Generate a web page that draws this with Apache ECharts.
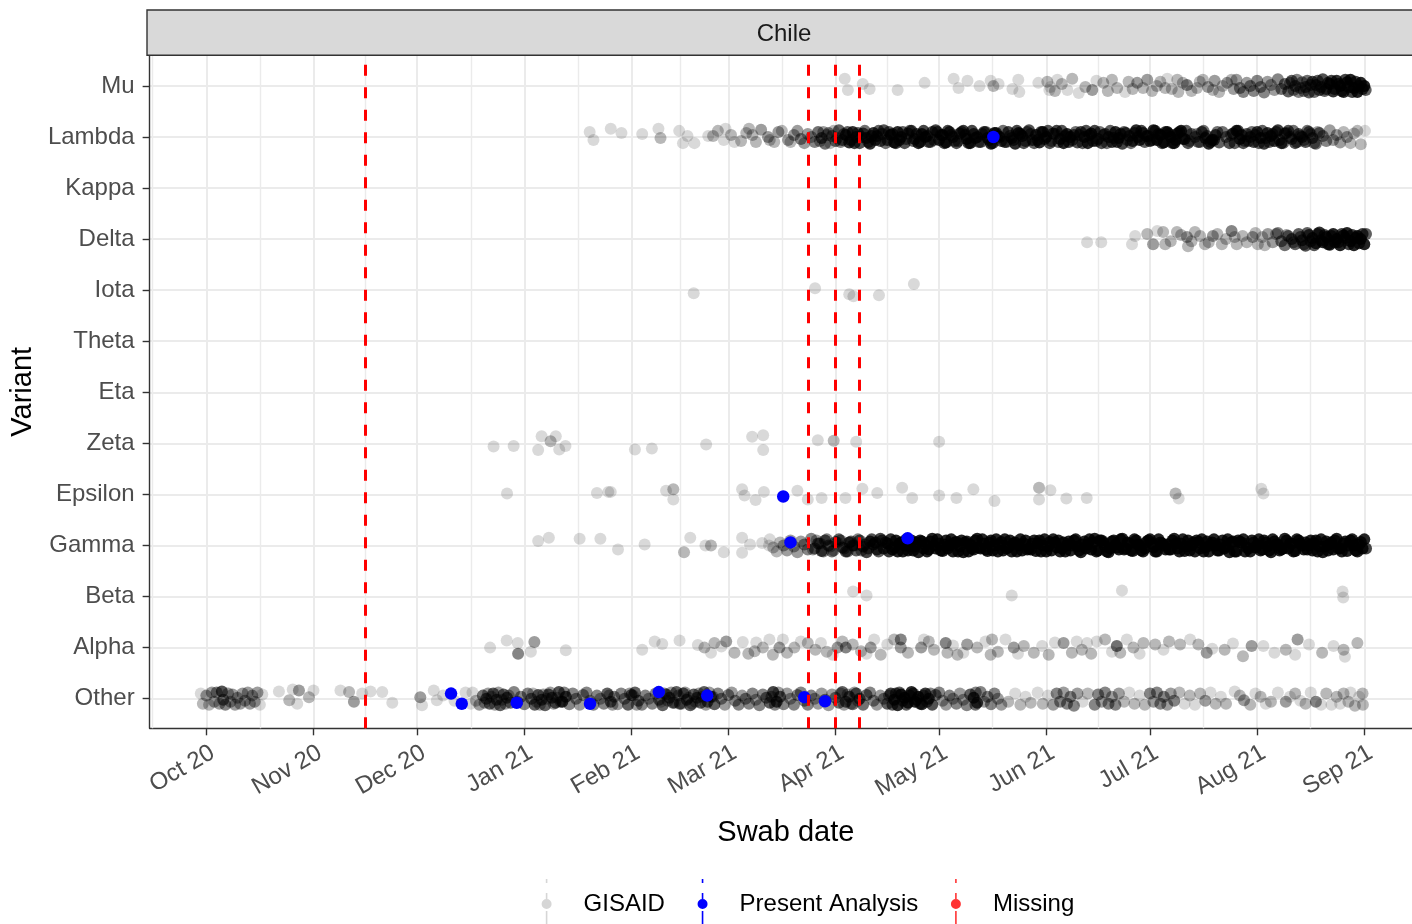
<!DOCTYPE html>
<html>
<head>
<meta charset="utf-8">
<script src="https://cdn.jsdelivr.net/npm/echarts@6/dist/echarts.min.js"></script>
<style>
  html, body { margin: 0; padding: 0; background: #ffffff; }
  #chart { width: 1412px; height: 924px; }
</style>
</head>
<body>
<div id="chart"></div>
<script>
// Variant lanes, bottom to top
const variants = ['Other', 'Alpha', 'Beta', 'Gamma', 'Epsilon', 'Zeta', 'Eta', 'Theta', 'Iota', 'Delta', 'Kappa', 'Lambda', 'Mu'];

// Month breaks on the date axis and their labels
const monthTicks = ['2020-10-01', '2020-11-01', '2020-12-01', '2021-01-01', '2021-02-01', '2021-03-01',
  '2021-04-01', '2021-05-01', '2021-06-01', '2021-07-01', '2021-08-01', '2021-09-01'];
const monthLabels = ['Oct 20', 'Nov 20', 'Dec 20', 'Jan 21', 'Feb 21', 'Mar 21',
  'Apr 21', 'May 21', 'Jun 21', 'Jul 21', 'Aug 21', 'Sep 21'];

// Dates with no sequencing data
const missingDates = ['2020-11-16', '2021-03-24', '2021-04-01', '2021-04-08'];

// Samples analysed in this study: [variant, days since 2020-10-01, jitter]
const presentAnalysis = [
  ['Other', 70.8, .1], ['Other', 73.9, -.1], ['Other', 89.8, -.08], ['Other', 111, -.1],
  ['Other', 130.9, .13], ['Other', 144.9, .06], ['Other', 173, .03], ['Other', 179, -.05],
  ['Epsilon', 166.9, -.04], ['Gamma', 169, .06], ['Gamma', 202.9, .14], ['Lambda', 227.7, 0]
];

// GISAID sequences per variant: [days since 2020-10-01, vertical jitter, stacked sequences]
const gisaidMu = [
  [184.7,.14],[185.6,-.08],[189.9,.04],[191.9,-.06],[200,-.08],[207.8,.06],[216.2,.14],[217.6,-.04],[220.2,.1],[223.7,0],
  [226.9,.1],[227.7,0,2],[229.2,.04],[233.2,-.06],[234.9,.12],[235.2,-.12],[240.7,.06],[243.3,.08,2],[243.9,-.08],[244.2,-.02],
  [245.5,-.1,2],[246.2,.12],[247.5,.04,2],[249.1,-.08],[250.5,.14,2],[252.4,-.14],[254.3,-.02,2],[256.3,-.08,3],[257.5,.1],[259.5,.06,2],
  [260.8,-.1,2],[262,.12,2],[263.5,-.04,2],[265.8,-.12],[266.8,.08,2],[268,-.06,2],[269.3,.06,3],[271,-.04,2],[272.2,.12,3],[273.6,-.1,2],
  [275,0,2],[276,.08,2],[277.4,-.04,2],[278,.14],[279.3,-.06,2],[280.9,.12,2],[281.2,-.12,2],[282.5,.06,2],[283.7,.02,4],[285,-.1,2],
  [286.6,-.04,2],[287.4,.08,2],[288.3,.12,2],[289.8,-.02,3],[291.2,-.08,2],[291.7,.1,3],[293,-.12,2],[294,0,2],[295.3,.06,3],[296.6,.12,2],[297.2,-.06,3],
  [298,.12,3],[299,-.04,4],[300,-.12,4],[301,.06,3],[302,0,4],[303,-.1,4],[304,.1,4],[305,-.02,4],[306,-.13,4],[307,.08,3],
  [308,.02,3],[309,-.08,3],[310,.13,4],[311,-.06,5],[312,.04,5],[313,-.11,6],[314,.1,6],[315,0,5],[316,-.12,4],[317,.07,4],
  [318,-.02,6],[319,-.13,6],[320,.08,7],[321,.02,7],[322,-.08,7],[323,.13,7],[324,-.06,8],[325,.04,9],[326,-.11,10],[327,.1,10],
  [328,0,11],[329,-.12,11],[330,.07,12],[331,.12,12],[332,-.04,12],[333,-.12,12],[334,.06,12],[335,0,12],[335.4,-.08,6],
  [313.5,.06,4],[314.5,-.08,4],[315.5,.12,4],[316.5,-.04,4],[317.5,-.1,4],[318.5,.1,5],[319.5,.02,5],[320.5,-.12,5],[321.5,.1,6],[322.5,-.02,6],
  [323.5,-.1,6],[324.5,.06,7],
  [325.5,.1,8],[326.5,-.06,8],[327.5,.04,8],[328.5,-.1,8],[329.5,.12,8],[330.5,-.02,8],[331.5,-.12,8],[332.5,.08,8],[333.5,0,8],[334.5,-.06,8]
];

const gisaidLambda = [
  [110.9,.1],[112,-.06],[117,.16],[120.1,.08],[126.1,.06],[130.8,.16],[131.4,-.02,2],[136.8,.12],[137.9,-.12],[139.2,.02],
  [141.2,-.12],[145.2,.02],[146.6,.02,2],[148,.12,2],[149.7,-.06],[150.2,.16],[151.8,.04,2],[152.8,-.1],[154.7,-.08,2],[156.2,.08,2],
  [157,.16,2],[158,.04,2],[159,-.1,2],[160.5,.14,3],[162.5,0,3],[163,-.06,2],[164.3,-.1,2],[165.5,.1,3],[166.5,.12,2],[168.3,-.06,3],[169,-.1,2],[170,.04,3],
  [171,.12,3],[172,-.04,4],[173,-.12,3],[174,.06,3],[175,0,3],[176,-.1,4],[177,.1,5],[178,-.02,6],[179,-.13,5],[180,.08,4],
  [181,.02,4],[182,-.08,5],[183,.13,6],[184,-.06,7],[185,.04,8],[186,-.11,10],[187,.1,10],[188,0,8],[189,-.12,7],[190,.07,7],
  [191,-.02,8],[192,-.13,10],[193,.08,10],[194,.02,8],[195,-.08,7],[196,.13,7],[197,-.06,8],[198,.04,10],[199,-.11,11],[200,.1,11],
  [201,0,9],[202,-.12,7],[203,.07,7],[204,.12,8],[205,-.04,9],[206,-.12,11],[207,.06,11],[208,0,9],[209,-.1,7],[210,.1,7],
  [211,.13,8],[212,-.06,9],[213,.04,11],[214,-.11,11],[215,.1,9],[216,0,7],[217,-.12,7],[218,.07,8],[219,.12,9],[220,-.04,11],
  [221,-.12,11],[222,.06,9],[223,0,7],[224,-.1,7],[225,.1,8],[226,-.02,9],[227,-.13,11],[228,.08,11],[229,.02,9],[230,-.08,7],
  [231,-.1,7],[232,.1,8],[233,-.02,9],[234,-.13,11],[235,.08,11],[236,.02,9],[237,-.08,7],[238,.13,7],[239,-.06,8],[240,.04,9],
  [241,-.11,11],[242,.1,11],[243,0,9],[244,-.12,7],[245,.07,7],[246,.12,8],[247,-.04,9],[248,-.12,11],[249,.06,11],[250,0,9],
  [251,.04,7],[252,-.11,7],[253,.1,8],[254,0,9],[255,-.12,11],[256,.07,11],[257,.12,8],[258,-.04,7],[259,-.12,7],[260,.06,7],
  [261,0,8],[262,-.1,9],[263,.1,11],[264,-.02,11],[265,-.13,8],[266,.08,7],[267,.02,7],[268,-.08,9],[269,.13,11],[270,-.06,11],
  [271,.08,8],[272,.02,8],[273,-.08,9],[274,.13,11],[275,-.06,12],[276,.04,12],[277,-.11,12],[278,.1,12],[279,0,12],[280,-.12,12],
  [281,.07,12],[282,.12,12],[283,-.04,10],[284,-.12,7],[285,.06,5],[286,0,5],[287,-.1,6],[288,.1,7],[289,-.02,9],[290,-.13,11],
  [291,-.06,11],[292,.04,8],[293,-.11,6],[294,.1,5],[295,0,5],[296,-.12,7],[297,.07,9],[298,.12,11],[299,-.04,11],[300,-.12,7],
  [301,.06,7],[302,0,7],[303,-.1,8],[304,.1,9],[305,-.02,9],[306,-.13,9],[307,.08,9],[308,.02,9],[309,-.08,9],[310,.13,9],
  [311,-.12,9],[312,.07,8],[313,.12,7],[314,-.04,7],[315,-.12,7],[316,.06,7],[317,0,8],[318,-.1,7],[319,.1,6],[320,-.02,6],
  [321,-.13,5],[322,.08,5],[323,.02,4],[324,-.08,4],[325,.13,3],[326,-.06,3],[327,.04,3],[328,-.11,3],[329,.1,2],[330,0,3],
  [331,-.12,2],[332,.07,2],[333,.12,2],[334,-.14,2],[335.2,.12,1],
  [177.5,-.08,3],[178.5,.1,3],[179.5,.04,3],[180.5,-.12,2],[181.5,.12,2],[182.5,-.02,3],
  [183.5,-.1,4],[184.5,.06,5],[185.5,.1,6],[186.5,-.06,8],[187.5,-.12,8],[188.5,.08,6],[189.5,0,5],[190.5,.12,5],[191.5,-.1,6],[192.5,.02,8],
  [193.5,-.06,8],[194.5,.12,6],[195.5,.06,5],[196.5,-.12,5],[197.5,.1,6],[198.5,.06,8],[199.5,-.12,8],[200.5,-.06,8],[201.5,.1,6],[202.5,-.04,5],
  [203.5,.12,5],[204.5,-.08,6],[205.5,.06,7],[206.5,-.1,8],[207.5,.12,8],[208.5,.02,7],[209.5,-.1,5],[210.5,-.06,5],[211.5,.1,6],[212.5,.04,7],
  [213.5,-.12,8],[214.5,.12,8],[215.5,.04,7],[216.5,-.08,5],[217.5,-.08,5],[218.5,.1,6],[219.5,.04,7],[220.5,-.12,8],[221.5,.12,8],[222.5,-.02,7],
  [223.5,-.1,5],[224.5,.06,5],[225.5,.1,6],[226.5,-.06,7],[227.5,-.12,8],[228.5,.08,8],[229.5,0,7],[230.5,.12,5],[231.5,-.1,5],[232.5,.02,6],
  [233.5,-.06,7],[234.5,.12,8],[235.5,.06,8],[236.5,-.12,7],[237.5,.1,5],[238.5,.06,5],[239.5,-.12,6],[240.5,-.06,7],[241.5,.1,8],[242.5,-.04,8],
  [243.5,.12,7],[244.5,-.08,5],[245.5,.06,5],[246.5,-.1,6],[247.5,.12,7],[248.5,.02,8],[249.5,-.1,8],[250.5,-.06,7],[251.5,.1,5],[252.5,.04,5],
  [253.5,-.12,6],[254.5,.12,7],[255.5,.04,8],[256.5,-.08,8],[257.5,-.08,6],[258.5,.1,5],[259.5,.04,5],[260.5,-.12,5],[261.5,.12,6],[262.5,-.02,7],
  [263.5,-.1,8],[264.5,.06,8],[265.5,.1,6],[266.5,-.06,5],[267.5,-.12,5],[268.5,.08,7],[269.5,0,8],[270.5,.12,8],[271.5,-.1,6],[272.5,.02,6],
  [273.5,-.06,7],[274.5,.12,8],[275.5,.06,8],[276.5,-.12,8],[277.5,.1,8],[278.5,.06,8],[279.5,-.12,8],[280.5,-.06,8],[281.5,.1,8],[282.5,-.04,8],
  [283.5,.12,6],[284.5,-.08,4],[286.5,.06,3],[287.5,-.1,4],[288.5,.12,5],[289.5,.02,6],[290.5,-.1,8],[291.5,-.06,8],[292.5,.1,5],
  [296.5,.04,4],[297.5,-.12,6],[298.5,.12,8],[299.5,.04,8],[300.5,-.08,5],[301.5,-.08,5],[302.5,.1,5],[303.5,.04,6],[304.5,-.12,6],[305.5,.12,6],
  [306.5,-.02,6],[307.5,-.1,6],[308.5,.06,6],[309.5,.1,6],[310.5,-.06,6],[311.5,-.12,6],[312.5,.08,5],[313.5,0,5],[314.5,.12,5],[315.5,-.1,5],
  [316.5,.02,5],[317.5,-.06,5],[318.5,.12,5],[319.5,.06,4],[320.5,-.12,4],[321.5,.1,3]
];

const gisaidKappa = [];

const gisaidDelta = [
  [254.8,-.06],[258.9,-.06],[267.8,-.1],[268.7,.06],[272.2,.1,2],[273.9,-.1,3],[275.1,.16],[276.8,.14,2],[277.4,-.1,2],[279,-.04,2],
  [280.8,.14,2],[282,.08,2],[283.7,.04,3],[284,-.14,2],[285,-.04,2],[286,.14,2],[287.5,.06,2],[288.9,-.1,2],[290,-.06,2],[291.2,.06,3],
  [292.5,.1,2],[293.8,-.1,2],[295,0,2],[296.6,.16,4],[297.5,.04,2],[298.1,-.1,2],[299.8,.06,2],[301,-.06,2],[302.7,.04,3],[303.5,.12,2],
  [304.2,-.1,2],[305.5,.04,2],[306.2,-.12,2],[307.1,.1,3],[308.5,-.06,3],[309.5,.1,3],
  [310,.12,4],[311,-.04,5],[312,-.12,5],[313,.06,5],[314,0,6],[315,-.1,6],[316,.1,6],[317,-.02,7],[318,-.13,7],[319,.08,8],
  [320,.02,9],[321,-.08,10],[322,.13,10],[323,-.06,11],[324,.04,11],[325,-.11,12],[326,.1,12],[327,0,12],[328,-.12,12],[329,.07,12],
  [330,.12,12],[331,-.04,12],[332,-.12,12],[333,.06,12],[334,0,12],[335,-.1,12],[335.5,.1,6],
  [312.5,.08,3],[314.5,-.06,4],[316.5,.04,5],[317.5,-.1,5],[318.5,.12,6],[319.5,-.04,6],[320.5,-.12,7],[321.5,.1,7],[322.5,-.02,8],[323.5,.08,8],
  [324.5,-.1,8],[325.5,.06,8],[326.5,-.06,8],[327.5,-.06,8],[328.5,.1,8],[329.5,.02,8],[330.5,-.1,8],[331.5,.08,8],[332.5,.02,8],[333.5,-.08,8],[334.5,.1,8]
];

const gisaidIota = [[141,-.06],[176.1,.04],[186,-.08],[187.2,-.12],[194.6,-.1],[204.7,.12]];
const gisaidTheta = [];
const gisaidEta = [];

const gisaidZeta = [
  [83.1,-.06],[88.9,-.05],[96,-.13],[97,.14],[99.6,.04,2],[101.1,.14],[102.1,-.12],[103.9,-.05],[124,-.12],[128.9,-.1],
  [144.6,-.02],[157.9,.13],[161.1,.16],[161.1,-.13],[176.9,.06],[181.5,.05,2],[188,.03],[212,.03]
];

const gisaidEpsilon = [
  [87,.02],[113,.03],[116.3,.05],[117,.05],[133,.07],[135.1,.1,2],[135.1,-.1],[155,.1],[155.7,-.02],[158.9,-.11],
  [161.3,.05],[171,.07],[174,-.1],[178,-.07],[184.9,-.07],[189.8,.11],[194.1,.03],[201.3,.13],[204.2,-.07],[212,-.02],
  [217,-.07],[221.9,.1],[228,-.13],[240.9,.13,2],[240.9,-.1],[244.2,.08],[248.8,-.08],[254.7,-.07],[280.4,.02,2],[281.3,-.08],
  [305.2,.11],[305.8,.02]
];

const gisaidGamma = [
  [96,.09],[99.1,.15],[108,.13],[114,.13],[119.1,-.08],[126.8,.02],[138.2,-.13,2],[140,.15],[144.4,0],[146,0,2],
  [149.7,-.13],[155,.15],[155,-.14],[157.3,.02],[160.8,.05],[162.8,0],
  [163,.12,1],[164,-.04,2],[165,-.12,2],[166,.06,2],[167,0,3],[168,-.1,3],[169,.1,3],[170,-.02,3],[171,-.13,3],[172,.08,3],
  [173,.02,4],[174,-.08,4],[175,.13,4],[176,-.06,5],[177,.04,6],[178,-.11,7],[179,.1,6],[180,0,5],[181,-.12,5],[182,.07,5],
  [183,.12,6],[184,-.04,6],[185,-.12,7],[186,.06,8],[187,0,7],[188,-.1,6],[189,.1,6],[190,-.02,7],[191,-.13,8],[192,.08,9],
  [193,.02,9],[194,-.08,8],[195,.13,8],[196,-.06,9],[197,.04,10],
  [175.5,-.08,3],[176.5,.1,3],[177.5,.04,4],[178.5,-.12,4],[179.5,.12,4],[180.5,-.02,3],[181.5,-.1,3],[182.5,.06,3],[183.5,.1,4],[184.5,-.06,4],
  [185.5,-.12,5],[186.5,.08,6],[187.5,0,5],[188.5,.12,4],[189.5,-.1,4],[190.5,.02,5],[191.5,-.06,6],[192.5,.12,7],[193.5,.06,7],[194.5,-.12,6],
  [195.5,.1,7],[196.5,.06,8],[197.5,-.12,9],
  [198,.12,10],[199,-.04,11],[200,-.12,12],[201,.06,12],[202,0,12],[203,-.1,12],[204,.1,12],[205,-.02,12],[206,-.13,12],[207,.08,12],
  [208,.02,12],[209,-.08,12],[210,.13,12],[211,-.06,12],[212,.04,12],[213,-.11,12],[214,.1,12],[215,0,12],[216,-.12,12],[217,.07,12],
  [218,-.02,12],[219,-.13,12],[220,.08,12],[221,.02,12],[222,-.08,12],[223,.13,12],[224,-.06,12],[225,.04,12],[226,-.11,12],[227,.1,12],
  [228,0,12],[229,-.12,12],[230,.07,12],[231,.12,12],[232,-.04,12],[233,-.12,12],[234,.06,12],[235,0,12],[236,-.1,12],[237,.1,12],
  [238,-.06,12],[239,.04,12],[240,-.11,12],[241,.1,12],[242,0,12],[243,-.12,12],[244,.07,12],[245,.12,12],[246,-.04,12],[247,-.12,12],
  [248,.06,12],[249,0,12],[250,-.1,12],[251,.1,12],[252,-.02,12],[253,-.13,12],[254,.08,12],[255,.02,12],[256,-.08,12],[257,.13,12],
  [258,-.1,12],[259,.1,12],[260,-.02,12],[261,-.13,12],[262,.08,12],[263,.02,12],[264,-.08,12],[265,.13,12],[266,-.06,12],[267,.04,12],
  [268,-.11,12],[269,.1,12],[270,0,12],[271,-.12,12],[272,.07,12],[273,.12,12],[274,-.04,12],[275,-.12,12],[276,.06,12],[277,0,12],
  [278,.02,12],[279,-.08,12],[280,.13,12],[281,-.06,12],[282,.04,12],[283,-.11,12],[284,.1,12],[285,0,12],[286,-.12,12],[287,.07,12],
  [288,.12,12],[289,-.04,12],[290,-.12,12],[291,.06,12],[292,0,12],[293,-.1,12],[294,.1,12],[295,-.02,12],[296,-.13,12],[297,.08,12],
  [298,-.12,12],[299,.07,12],[300,.12,12],[301,-.04,12],[302,-.12,12],[303,.06,12],[304,0,12],[305,-.1,12],[306,.1,12],[307,-.02,12],
  [308,-.13,12],[309,.08,12],[310,.02,12],[311,-.08,12],[312,.13,12],[313,-.06,12],[314,.04,12],[315,-.11,12],[316,.1,12],[317,0,12],
  [318,.06,12],[319,0,12],[320,-.1,12],[321,.1,12],[322,-.02,12],[323,-.13,12],[324,.08,12],[325,.02,12],[326,-.08,12],[327,.13,12],
  [328,-.06,12],[329,.04,12],[330,-.11,12],[331,.1,12],[332,0,12],[333,-.12,12],[334,.07,12],[335,.12,12],[335.5,-.06,8],
  [198.5,-.08,12],[199.5,.1,12],[200.5,.04,12],[201.5,-.12,12],[202.5,.12,12],[203.5,-.02,12],[204.5,-.1,12],[205.5,.06,12],[206.5,.1,12],[207.5,-.06,12],
  [208.5,-.12,12],[209.5,.08,12],[210.5,0,12],[211.5,.12,12],[212.5,-.1,12],[213.5,.02,12],[214.5,-.06,12],[215.5,.12,12],[216.5,.06,12],[217.5,-.12,12],
  [218.5,.1,12],[219.5,.06,12],[220.5,-.12,12],[221.5,-.06,12],[222.5,.1,12],[223.5,-.04,12],[224.5,.12,12],[225.5,-.08,12],[226.5,.06,12],[227.5,-.1,12],
  [228.5,.12,12],[229.5,.02,12],[230.5,-.1,12],[231.5,-.06,12],[232.5,.1,12],[233.5,.04,12],[234.5,-.12,12],[235.5,.12,12],[236.5,.04,12],[237.5,-.08,12],
  [238.5,-.08,12],[239.5,.1,12],[240.5,.04,12],[241.5,-.12,12],[242.5,.12,12],[243.5,-.02,12],[244.5,-.1,12],[245.5,.06,12],[246.5,.1,12],[247.5,-.06,12],
  [248.5,-.12,12],[249.5,.08,12],[250.5,0,12],[251.5,.12,12],[252.5,-.1,12],[253.5,.02,12],[254.5,-.06,12],[255.5,.12,12],[256.5,.06,12],[257.5,-.12,12],
  [258.5,.1,12],[259.5,.06,12],[260.5,-.12,12],[261.5,-.06,12],[262.5,.1,12],[263.5,-.04,12],[264.5,.12,12],[265.5,-.08,12],[266.5,.06,12],[267.5,-.1,12],
  [268.5,.12,12],[269.5,.02,12],[270.5,-.1,12],[271.5,-.06,12],[272.5,.1,12],[273.5,.04,12],[274.5,-.12,12],[275.5,.12,12],[276.5,.04,12],[277.5,-.08,12],
  [278.5,-.08,12],[279.5,.1,12],[280.5,.04,12],[281.5,-.12,12],[282.5,.12,12],[283.5,-.02,12],[284.5,-.1,12],[285.5,.06,12],[286.5,.1,12],[287.5,-.06,12],
  [288.5,-.12,12],[289.5,.08,12],[290.5,0,12],[291.5,.12,12],[292.5,-.1,12],[293.5,.02,12],[294.5,-.06,12],[295.5,.12,12],[296.5,.06,12],[297.5,-.12,12],
  [298.5,.1,12],[299.5,.06,12],[300.5,-.12,12],[301.5,-.06,12],[302.5,.1,12],[303.5,-.04,12],[304.5,.12,12],[305.5,-.08,12],[306.5,.06,12],[307.5,-.1,12],
  [308.5,.12,12],[309.5,.02,12],[310.5,-.1,12],[311.5,-.06,12],[312.5,.1,12],[313.5,.04,12],[314.5,-.12,12],[315.5,.12,12],[316.5,.04,12],[317.5,-.08,12],
  [318.5,-.08,12],[319.5,.1,12],[320.5,.04,12],[321.5,-.12,12],[322.5,.12,12],[323.5,-.02,12],[324.5,-.1,12],[325.5,.06,12],[326.5,.1,12],[327.5,-.06,12],
  [328.5,-.12,12],[329.5,.08,12],[330.5,0,12],[331.5,.12,12],[332.5,-.1,12],[333.5,.02,12],[334.5,-.06,12]
];

const gisaidBeta = [[187.1,.1],[191,.02],[233,.02],[264.9,.12],[328.7,.1],[328.9,-.02]];

const gisaidAlpha = [
  [82.1,0],[86.9,.14],[90.1,.09],[90.2,-.12,4],[93.9,-.08],[94.9,.11,3],[104,-.05],[126.1,-.04],[129.7,.12],[131.9,.07],
  [136.9,.14],[142.2,.05],[144.1,0,2],[146,-.1],[147,.09,2],[149,.02],[150.4,.12,3],[152.8,-.1,2],[155.2,.11],[156.8,-.12,2],
  [158.6,-.07,2],[159.1,.1],[161,0,2],[162.9,.16],[163.9,-.14,2],[165.8,0,3],[166.8,.16],[168,-.1,2],[170.1,0,2],[172,.12],
  [174,.09,2],[176.2,-.04,2],[177.8,.09],[179.5,-.08,2],[181.2,-.14],[182.6,0,3],[184,.12,2],[185,0,4],[187,.06,2],[189.4,-.07,2],
  [191,-.12],[192.2,0,3],[193.2,.16],[195.1,-.14,2],[197,.06],[199,.16,2],[200.9,.16,4],[200.9,0,3],[203,-.1,2],[206.8,0,3],
  [207.6,.16],[209,.12,2],[210.5,-.04,2],[213.9,.09,4],[214.4,-.1,2],[216,.04],[217.3,-.14,2],[219,-.1],[220.1,.06,3],[223,0,2],
  [225.4,.12],[226.9,-.14,2],[227.3,.16,2],[229,-.08,2],[231.2,.16],[233.6,0,3],[234.8,-.12],[236.5,.03,2],[239.4,-.1,2],[241.8,.03],
  [243.7,-.14,2],[245.5,.1],[248,.09,3],[250.4,-.1,2],[251.8,.12],[253.3,-.04,2],[254.8,.09],[256,-.12,2],[257.6,.12],[260,.16,2],
  [262,-.08],[263.4,.03,5],[264.4,-.1,2],[266.3,.16],[268.2,0,2],[270,-.12],[271.1,.09,2],[274.5,.06,2],[276.9,-.04],[278.5,.12,2],
  [281.7,.06,2],[284.6,.16],[287,.06,2],[289.4,-.1,3],[291,-.02],[294.6,-.04,2],[297,.08],[299.9,-.17,2],[302.4,.03,3],[305.8,.03],
  [309,-.1],[312.3,-.04,2],[315,-.14],[315.7,.16,3],[319,.06],[322.8,-.1,2],[326.1,.03],[329,-.04,2],[329.4,-.18],[333,.09,2]
];

const gisaidOther = [
  [-1.6,.1],[-1,-.1,2],[0,.06,3],[0.8,-.12,2],[1.6,.12,3],[2.3,-.06,3],[3,.12,4],[3.8,-.1,3],[4.5,.14,7],[4.9,-.02,5],
  [5.5,-.12,4],[6.3,.1,3],[7,-.06,3],[7.6,.08,3],[8.3,-.12,3],[9,.02,3],[9.8,-.1,3],[10.5,.1,3],[11.2,-.04,3],[12,.12,3],
  [12.6,-.1,3],[13.3,.06,3],[14,-.06,3],[14.8,.12,3],[15.5,-.12],[16.2,.08],
  [21,.14],[24,-.03,2],[25,.18],[26.3,-.1],[26.8,.16,3],[29.7,.03,2],[31,.16],
  [38.8,.16],[41.3,.13,2],[42.7,-.06,3],[45.1,.1],[47.5,.14],[50.9,.13],[53.8,-.08],
  [61.9,.03,3],[62.4,-.13],[65.8,.16],[66.7,-.03],[68.5,.06],[71.8,-.04],[75,.12],[76.5,-.1],
  [77,.12,1],[78,-.04,2],[79,-.12,3],[80,.06,5],[81,0,6],[82,-.1,6],[83,.1,6],[84,-.02,6],[85,-.13,6],[86,.08,6],
  [87,.02,6],[88,-.08,5],[89,.13,4],[90,-.06,4],[91,.04,4],[92,-.11,4],[93,.1,4],[94,0,5],[95,-.12,6],[96,.07,6],
  [97,-.02,6],[98,-.13,6],[99,.08,6],[100,.02,6],[101,-.08,6],[102,.13,7],[103,-.06,9],[104,.04,8],[105,-.11,4],[106,.1,4],
  [107,0,4],[108,-.12,3],[109,.07,4],[110,.12,4],[111,-.04,3],[112,-.12,4],[113,.06,4],[114,0,3],[115,-.1,4],[116,.1,6],
  [117,-.06,6],[118,.04,4],[119,-.11,3],[120,.1,4],[121,0,4],[122,-.12,6],[123,.07,6],[124,.12,6],[125,-.04,5],[126,-.12,4],
  [127,.06,4],[128,0,3],[129,-.1,4],[130,.1,4],[131,-.02,5],[132,-.13,6],[133,.08,6],[134,.02,6],[135,-.08,6],[136,.13,6],
  [137,-.1,6],[138,.1,6],[139,-.02,6],[140,-.13,6],[141,.08,6],[142,.02,6],[143,-.08,6],[144,.13,6],[145,-.06,6],[146,.04,6],
  [147,-.11,6],[148,.1,4],[149,0,4],[150,-.12,3],[151,.07,4],[152,.12,3],[153,-.04,4],[154,-.12,4],[155,.06,3],[156,0,4],
  [157,-.1,4],[158,.1,4],[159,-.02,3],[160,-.13,4],[161,.08,4],[162,.02,5],[163,-.08,6],[164,.13,8],[165,-.06,8],[166,.04,6],
  [167,-.11,4],[168,.1,3],[169,0,3],[170,-.12,4],[171,.07,4],[172,.12,4],[173,-.04,4],[174,-.12,4],[175,.06,4],[176,0,3],
  [177,-.1,3],[178,.1,3],[179,-.02,4],[180,-.13,3],[181,.08,3],[182,.02,4],[183,-.08,5],[184,.13,6],[185,-.06,6],[186,.04,6],
  [187,-.11,5],[188,.1,6],[189,0,6],[190,-.12,5],[191,.07,5],[192,.12,4],[193,-.04,4],[194,-.12,3],[195,.06,3],[196,0,4],
  [197,-.1,6],[198,.1,8],[199,-.02,10],[200,-.13,11],[201,.08,11],[202,.02,11],[203,-.08,11],[204,.13,11],[205,-.06,11],[206,.04,10],
  [207,-.11,10],[208,.1,9],[209,0,8],[210,-.12,7],[211,.07,5],[212,.12,4],[213,-.04,3],[214,-.12,3],[215,.06,4],[216,0,3],
  [217,-.1,4],[218,.1,3],[219,-.02,3],[220,-.13,4],[221,.08,6],[222,.02,9],[223,-.08,9],[224,.13,4],[225,-.06,3],[226,.04,4],
  [227,-.11,4],[228,.1,4],[229,0,3],[230,-.12,3],
  [80.5,-.08,3],[81.5,.1,3],[82.5,.04,3],[83.5,-.12,3],[84.5,.12,3],[85.5,-.02,3],[86.5,-.1,3],[87.5,.06,3],[94.5,.1,2],[95.5,-.06,3],
  [96.5,-.12,3],[97.5,.08,3],[98.5,0,3],[99.5,.12,3],[100.5,-.1,3],[101.5,.02,3],[102.5,-.06,4],[103.5,.12,4],[116.5,.06,3],[117.5,-.12,3],
  [122.5,.1,3],[123.5,.06,3],[124.5,-.12,3],[131.5,-.06,2],[132.5,.1,3],[133.5,-.04,3],[134.5,.12,3],[135.5,-.08,3],[136.5,.06,3],[137.5,-.1,3],
  [138.5,.12,3],[139.5,.02,3],[140.5,-.1,3],[141.5,-.06,3],[142.5,.1,3],[143.5,.04,3],[144.5,-.12,3],[145.5,.12,3],[146.5,.04,3],
  [163.5,.04,4],[164.5,-.12,4],[165.5,.12,3],[183.5,.1,3],[184.5,-.12,3],[185.5,.08,3],[186.5,-.1,3],[187.5,.12,3],[188.5,-.04,3],
  [197.5,.06,4],[198.5,-.12,6],[199.5,.1,6],[200.5,.12,6],[201.5,-.04,6],[202.5,-.12,6],[203.5,.06,6],[204.5,.1,6],[205.5,-.02,6],[206.5,-.1,6],
  [207.5,.06,5],[208.5,-.06,5],[209.5,.1,4],[222.5,-.12,5],[222.6,.12,4],
  [232,-.06,2],[234,.1],[235.5,-.12,2],[237,.04],[238.5,-.08,2],[240.5,.12],[242,-.1,2],[243.5,.06],
  [245,-.12,3],[246,.1,4],[247,-.06,4],[248,.12,3],[249,-.1,4],[250,.04,4],[251,-.14,4],[252,.1,3],
  [253.5,-.06],[255,.1,2],
  [257,-.12,4],[258,.08,4],[259,-.06,3],[260,.12,4],[261,-.1,4],[262,.04,3],[263,-.12,4],[264,.1,3],
  [265.5,-.06,2],[267,.12],[268.5,-.1,2],[270,.06],[271.5,-.12,2],
  [273,.1,4],[274,-.06,3],[275,.12,4],[276,-.1,4],[277,.04,4],[278,-.12,3],[279,.1,3],[280,-.04,4],
  [281.5,.12,2],[283,-.1],[284.5,.06,2],[286,-.12],[287.5,.1,2],[289,-.04,3],[290.5,.12],[292,-.1,2],[293.5,.04],
  [295,-.1,2],[297.5,.14],[299,.06,2],[300.2,-.03,3],[302,-.12,2],[303.5,.1],[305,.04,2],[306.5,-.1],[308,-.06,2],[310,.12],
  [312.3,-.06,3],[313.5,.04],[315,.1,2],[316.5,-.04],[318,-.1,2],[319.5,.12],[321,-.06,4],[322.5,-.12],[324,.1,2],[325.5,-.12],
  [327,.04,2],[328,-.1],[329,.1,2],[330.4,-.06,2],[331,.12],[332.3,-.14,2],[333.5,.04],[334.5,.1,2],[334.6,-.12,2]
];

const gisaidByVariant = {
  Other: gisaidOther, Alpha: gisaidAlpha, Beta: gisaidBeta, Gamma: gisaidGamma, Epsilon: gisaidEpsilon,
  Zeta: gisaidZeta, Eta: gisaidEta, Theta: gisaidTheta, Iota: gisaidIota, Delta: gisaidDelta,
  Kappa: gisaidKappa, Lambda: gisaidLambda, Mu: gisaidMu
};

// ---- helpers ----
const DAY = 86400000;
function toTime(s) {
  const p = s.split('-');
  return new Date(+p[0], +p[1] - 1, +p[2]).getTime();
}
const origin = toTime('2020-10-01');
const POINT_ALPHA = 0.15;
// opacity of n identical translucent points drawn on top of each other
function stackedAlpha(n) { return 1 - Math.pow(1 - POINT_ALPHA, n); }

const tickTimes = monthTicks.map(toTime);
function monthLabel(v) {
  let best = 0, bestDiff = Infinity;
  tickTimes.forEach((t, i) => { const d = Math.abs(t - v); if (d < bestDiff) { bestDiff = d; best = i; } });
  return monthLabels[best];
}
// minor breaks halfway between month breaks
const minorTimes = [];
minorTimes.push(tickTimes[0] - (tickTimes[1] - tickTimes[0]) / 2);
for (let i = 0; i < tickTimes.length - 1; i++) minorTimes.push((tickTimes[i] + tickTimes[i + 1]) / 2);
minorTimes.push(tickTimes[tickTimes.length - 1] + (tickTimes[tickTimes.length - 1] - tickTimes[tickTimes.length - 2]) / 2);

const gisaidData = [];
variants.forEach((name, idx) => {
  gisaidByVariant[name].forEach(([d, j, n]) => {
    gisaidData.push({
      value: [origin + d * DAY, idx + j],
      itemStyle: { color: 'rgba(0,0,0,' + stackedAlpha(n || 1).toFixed(3) + ')', opacity: 1 }
    });
  });
});
const presentData = presentAnalysis.map(([v, d, j]) => [origin + d * DAY, variants.indexOf(v) + j]);
const laneValues = variants.map((_, i) => i);

const FONT = "'Liberation Sans', Arial, Helvetica, sans-serif";
const keyDashed = 'path://M4.2,0h1.6v4h-1.6z M4.2,14h1.6v6h-1.6z M4.2,32h1.6v18h-1.6z M0,25a5,5 0 1,0 10,0a5,5 0 1,0 -10,0z';

const chart = echarts.init(document.getElementById('chart'), null, { renderer: 'canvas' });
chart.setOption({
  animation: false,
  backgroundColor: '#ffffff',
  textStyle: { fontFamily: FONT },
  grid: { left: 147, top: 55.3, right: 0, height: 673, show: false },
  xAxis: {
    type: 'value',
    min: origin - 16.4 * DAY,
    max: origin + 348.8 * DAY,
    axisLine: { show: true, onZero: false, lineStyle: { color: '#333333', width: 1.4 } },
    axisTick: { show: true, length: 7, lineStyle: { color: '#333333', width: 1.4 }, customValues: tickTimes },
    axisLabel: {
      customValues: tickTimes,
      formatter: v => monthLabel(v),
      rotate: 30, margin: 11.5, align: 'right', verticalAlign: 'top', padding: [1, 0, 0, 0],
      color: '#4d4d4d', fontSize: 24, fontFamily: FONT, hideOverlap: false
    },
    splitLine: { show: true, lineStyle: { color: '#ebebeb', width: 2 } },
    name: 'Swab date', nameLocation: 'middle', nameGap: 90,
    nameTextStyle: { color: '#000000', fontSize: 29, fontFamily: FONT, padding: [0, 0, 0, 10] }
  },
  yAxis: {
    type: 'value',
    min: -0.58, max: 12.6,
    axisLine: { show: true, onZero: false, lineStyle: { color: '#333333', width: 1.4 } },
    axisTick: { show: true, length: 7, lineStyle: { color: '#333333', width: 1.4 }, customValues: laneValues },
    axisLabel: {
      customValues: laneValues,
      formatter: v => variants[Math.round(v)],
      margin: 15, color: '#4d4d4d', fontSize: 24, fontFamily: FONT
    },
    splitLine: { show: true, lineStyle: { color: '#ebebeb', width: 2 } },
    name: 'Variant', nameLocation: 'middle', nameGap: 106, nameRotate: 90,
    nameTextStyle: { color: '#000000', fontSize: 29, fontFamily: FONT }
  },
  legend: {
    left: 541.6, top: 879, orient: 'horizontal', padding: 0,
    itemWidth: 10, itemHeight: 50, itemGap: 32.6,
    selectedMode: false,
    textStyle: { color: '#000000', fontSize: 24, fontFamily: FONT, padding: [0, 0, 0, 27] },
    data: [
      { name: 'GISAID', icon: keyDashed, itemStyle: { color: '#d6d6d6' } },
      { name: 'Present Analysis', icon: keyDashed, itemStyle: { color: '#0000ff' } },
      { name: 'Missing', icon: keyDashed, itemStyle: { color: '#ff0000' } }
    ]
  },
  graphic: [
    {
      type: 'rect', z: 10,
      shape: { x: 147, y: 10, width: 1290, height: 45.3 },
      style: { fill: '#d9d9d9', stroke: '#333333', lineWidth: 1.4 }
    },
    {
      type: 'text', z: 11, x: 784, y: 34.5,
      style: {
        text: 'Chile', fill: '#1a1a1a', font: '24px ' + FONT,
        textAlign: 'center', textVerticalAlign: 'middle', align: 'center', verticalAlign: 'middle'
      }
    }
  ],
  series: [
    {
      // minor vertical grid lines, kept beneath the points
      type: 'scatter', data: [], silent: true, z: 1,
      markLine: {
        z: 1, silent: true, symbol: ['none', 'none'], label: { show: false },
        lineStyle: { color: '#ebebeb', width: 1.4, type: 'solid' },
        emphasis: { disabled: true },
        data: minorTimes.map(t => ({ xAxis: t }))
      }
    },
    {
      name: 'GISAID', type: 'scatter', symbol: 'circle', symbolSize: 12, z: 2,
      progressive: 0, large: false, silent: true,
      itemStyle: { color: 'rgba(0,0,0,0.15)', opacity: 1 },
      emphasis: { disabled: true },
      data: gisaidData
    },
    {
      name: 'Present Analysis', type: 'scatter', symbol: 'circle', symbolSize: 12.5, z: 3,
      silent: true, itemStyle: { color: '#0000ff', opacity: 1 },
      emphasis: { disabled: true },
      data: presentData
    },
    {
      name: 'Missing', type: 'scatter', data: [], z: 4, silent: true,
      itemStyle: { color: '#ff0000' },
      markLine: {
        z: 5, silent: true, symbol: ['none', 'none'], label: { show: false },
        lineStyle: { color: '#ff0000', width: 3, type: [11, 11.5] },
        emphasis: { disabled: true },
        data: missingDates.map(s => ({ xAxis: toTime(s) }))
      }
    }
  ]
});
</script>
</body>
</html>
